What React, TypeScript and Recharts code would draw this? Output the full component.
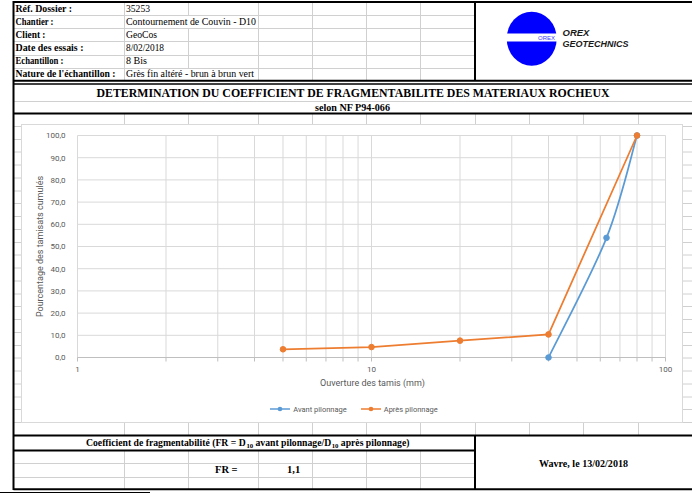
import React from 'react';
import { LineChart, Line, XAxis, YAxis, CartesianGrid, Legend } from 'recharts';

// Sieve sizes (mm) and cumulative passing (%)
const sizesAvant = [40, 63, 80];
const passingAvant = [0, 53.9, 100];
const sizesApres = [5, 10, 20, 40, 80];
const passingApres = [3.7, 4.7, 7.6, 10.4, 100];

const seriesNames = ['Avant pilonnage', 'Après pilonnage'];
const seriesColors = ['#5B9BD5', '#ED7D31'];

const xTicks = [1, 2, 3, 4, 5, 6, 7, 8, 9, 10, 20, 30, 40, 50, 60, 70, 80, 90, 100];
const xTickLabels = [1, 10, 100];
const yTicks = [0, 10, 20, 30, 40, 50, 60, 70, 80, 90, 100];

const xTitle = 'Ouverture des tamis (mm)';
const yTitle = 'Pourcentage des tamisats cumulés';

const headerLabels = [
  'Réf. Dossier :',
  'Chantier :',
  'Client :',
  'Date des essais :',
  'Echantillon :',
  "Nature de l'échantillon :",
];
const headerValues = [
  '35253',
  'Contournement de Couvin - D10',
  'GeoCos',
  '8/02/2018',
  '8 Bis',
  'Grès fin altéré - brun à brun vert',
];
const reportTitle = 'DETERMINATION DU COEFFICIENT DE FRAGMENTABILITE DES MATERIAUX ROCHEUX';
const reportNorm = 'selon NF P94-066';
const frValue = '1,1';
const placeDate = 'Wavre, le 13/02/2018';

const avantData = sizesAvant.map((s, i) => ({ size: s, pct: passingAvant[i] }));
const apresData = sizesApres.map((s, i) => ({ size: s, pct: passingApres[i] }));

const SERIF = "'Liberation Serif', 'Times New Roman', serif";
const SANS = "Roboto, 'Liberation Sans', sans-serif";
const ARIAL = "'Liberation Sans', Arial, sans-serif";
const GRID = '#d0d0d0';
const AXIS_TEXT = '#595959';

// Spreadsheet-style smoothed line: cubic Bezier segments whose control
// points follow the neighbouring points (Catmull-Rom, 1/6 factor).
function smoothCurve(context: any) {
  let pts: [number, number][] = [];
  return {
    areaStart() {},
    areaEnd() {},
    lineStart() {
      pts = [];
    },
    point(x: number, y: number) {
      pts.push([+x, +y]);
    },
    lineEnd() {
      const n = pts.length;
      if (!n) return;
      context.moveTo(pts[0][0], pts[0][1]);
      for (let i = 0; i < n - 1; i++) {
        const p0 = pts[Math.max(i - 1, 0)];
        const p1 = pts[i];
        const p2 = pts[i + 1];
        const p3 = pts[Math.min(i + 2, n - 1)];
        context.bezierCurveTo(
          p1[0] + (p2[0] - p0[0]) / 6,
          p1[1] + (p2[1] - p0[1]) / 6,
          p2[0] - (p3[0] - p1[0]) / 6,
          p2[1] - (p3[1] - p1[1]) / 6,
          p2[0],
          p2[1]
        );
      }
    },
  };
}

// Sheet column and row boundaries
const innerCols = [124.5, 188.5, 258.5, 312.5, 366.5, 420.5];
const allCols = [...innerCols, 475.5, 529.5, 583.5, 638.5];
const headerRows = [15.5, 28.5, 41.5, 55.5, 68.5];
const headerBaselines = [11.7, 25, 38.3, 51.2, 63.6, 76.7];
const labelWidths = [56.5, 38, 30, 68, 48, 100];
const valueWidths = [24, 130, 31, 38, 21, 128];
const bandRows = Array.from({ length: 24 }, (_, k) => Math.round((113.5 + 12.88 * (k + 1)) * 2) / 2);

const Sheet = () => {
  const gray: React.ReactNode[] = [];
  headerRows.forEach((y, i) =>
    gray.push(<line key={'hr' + i} x1={14} x2={475} y1={y} y2={y} stroke={GRID} />)
  );
  const headerRowEdges = [2, 15.5, 28.5, 41.5, 55.5, 68.5, 81];
  innerCols.forEach((x, ci) => {
    for (let r = 0; r < 6; r++) {
      // overflowing text hides the gridline in rows 2 and 6
      if (x === 188.5 && (r === 1 || r === 5)) continue;
      gray.push(
        <line key={`hc${ci}-${r}`} x1={x} x2={x} y1={headerRowEdges[r]} y2={headerRowEdges[r + 1]} stroke={GRID} />
      );
    }
  });
  gray.push(<line key="t101" x1={14} x2={692} y1={101.5} y2={101.5} stroke={GRID} />);
  bandRows.forEach((y, i) =>
    gray.push(<line key={'br' + i} x1={14} x2={692} y1={y} y2={y} stroke={GRID} />)
  );
  allCols.forEach((x, i) =>
    gray.push(<line key={'bc' + i} x1={x} x2={x} y1={113.5} y2={435.5} stroke={GRID} />)
  );
  [463.5, 477.5].forEach((y, i) =>
    gray.push(<line key={'fr' + i} x1={14} x2={475} y1={y} y2={y} stroke={GRID} />)
  );
  innerCols.forEach((x, i) =>
    gray.push(<line key={'fc' + i} x1={x} x2={x} y1={450} y2={489} stroke={GRID} />)
  );

  const K = '#000';
  const bold = { fontFamily: SERIF, fontWeight: 'bold' as const, fill: '#000' };
  return (
    <svg width={692} height={494} style={{ position: 'absolute', left: 0, top: 0 }}>
      <rect x={0} y={0} width={692} height={494} fill="#fff" />
      {gray}
      {/* chart object frame */}
      <rect x={21.5} y={124.5} width={661} height={298} fill="#fff" stroke="#d9d9d9" />

      {/* heavy borders */}
      <line x1={13.5} x2={692} y1={2} y2={2} stroke={K} strokeWidth={2} />
      <line x1={13.5} x2={13.5} y1={1} y2={490} stroke={K} strokeWidth={2} />
      <line x1={475} x2={475} y1={1} y2={81} stroke={K} strokeWidth={2} />
      <line x1={13.5} x2={692} y1={80.8} y2={80.8} stroke={K} strokeWidth={2} />
      <line x1={13.5} x2={692} y1={84} y2={84} stroke={K} strokeWidth={1.6} />
      <line x1={13.5} x2={692} y1={113.5} y2={113.5} stroke={K} strokeWidth={2} />
      <line x1={13.5} x2={692} y1={435.5} y2={435.5} stroke={K} strokeWidth={2} />
      <line x1={13.5} x2={475} y1={450.5} y2={450.5} stroke={K} strokeWidth={2} />
      <line x1={475} x2={475} y1={435} y2={490} stroke={K} strokeWidth={2} />
      <line x1={13.5} x2={692} y1={489.3} y2={489.3} stroke={K} strokeWidth={2} />
      <line x1={0} x2={150} y1={492.5} y2={492.5} stroke={K} strokeWidth={1} />

      {/* identification block */}
      {headerLabels.map((t, i) => (
        <text key={'l' + i} x={15.5} y={headerBaselines[i]} {...bold} fontSize={10} textLength={labelWidths[i]} lengthAdjust="spacingAndGlyphs">
          {t}
        </text>
      ))}
      {headerValues.map((t, i) => (
        <text key={'v' + i} x={126} y={headerBaselines[i]} fontFamily={SERIF} fontSize={10} fill="#000" textLength={valueWidths[i]} lengthAdjust="spacingAndGlyphs">
          {t}
        </text>
      ))}

      {/* logo */}
      <ellipse cx={531.7} cy={38.7} rx={25} ry={27} fill="#0000ff" />
      <rect x={505} y={33.5} width={54} height={8} fill="#fff" />
      <text x={538} y={40} fontFamily={ARIAL} fontSize={5.5} fill="#3a3aff" textLength={17} lengthAdjust="spacingAndGlyphs">
        OREX
      </text>
      <text x={562.5} y={36.3} fontFamily={ARIAL} fontWeight="bold" fontStyle="italic" fontSize={9.5} fill="#1a1a1a">
        OREX
      </text>
      <text x={562.5} y={46.5} fontFamily={ARIAL} fontWeight="bold" fontStyle="italic" fontSize={9.5} fill="#1a1a1a" textLength={66} lengthAdjust="spacingAndGlyphs">
        GEOTECHNICS
      </text>

      {/* titles */}
      <text x={96.5} y={96.7} {...bold} fontSize={13} textLength={513} lengthAdjust="spacingAndGlyphs">
        {reportTitle}
      </text>
      <text x={315} y={111.3} {...bold} fontSize={9.5} textLength={75} lengthAdjust="spacingAndGlyphs">
        {reportNorm}
      </text>

      {/* fragmentability result, with D10 subscripts */}
      <text x={86} y={446} {...bold} fontSize={9.7}>
        Coefficient de fragmentabilité (FR = D
      </text>
      <text x={246.4} y={448.2} {...bold} fontSize={6.8}>
        10
      </text>
      <text x={255.5} y={446} {...bold} fontSize={9.7}>
        avant pilonnage/D
      </text>
      <text x={331.7} y={448.2} {...bold} fontSize={6.8}>
        10
      </text>
      <text x={340.8} y={446} {...bold} fontSize={9.7}>
        après pilonnage)
      </text>
      <text x={215} y={473} {...bold} fontSize={10.5}>
        FR =
      </text>
      <text x={287} y={473} {...bold} fontSize={10.5}>
        {frValue}
      </text>
      <text x={539} y={466.7} {...bold} fontSize={10} textLength={89} lengthAdjust="spacingAndGlyphs">
        {placeDate}
      </text>
    </svg>
  );
};

const YTitle = (props: any) => {
  const vb = props.viewBox || { x: 0, y: 0, width: 0, height: 0 };
  const cx = vb.x + 18;
  const cy = vb.y + vb.height / 2;
  return (
    <text x={cx} y={cy} transform={`rotate(-90 ${cx} ${cy})`} textAnchor="middle" dominantBaseline="central" fontFamily={SANS} fontSize={9} fill={AXIS_TEXT}>
      {yTitle}
    </text>
  );
};

const XTitle = (props: any) => {
  const vb = props.viewBox || { x: 0, y: 0, width: 0, height: 0 };
  return (
    <text x={vb.x + vb.width / 2 + 1} y={vb.y + 28.5} textAnchor="middle" fontFamily={SANS} fontSize={9} fill={AXIS_TEXT}>
      {xTitle}
    </text>
  );
};

const LegendContent = (props: any) => {
  const payload: any[] = props.payload || [];
  const items = seriesNames.map((name, i) => {
    const hit = payload.find((p) => p.value === name);
    return { value: name, color: (hit && hit.color) || seriesColors[i] };
  });
  return (
    <div style={{ display: 'flex', justifyContent: 'center', alignItems: 'center', height: 12, paddingLeft: 4, fontFamily: SANS, fontSize: 7.5, color: AXIS_TEXT }}>
      {items.map((it, i) => (
        <div key={it.value} style={{ display: 'flex', alignItems: 'center', marginRight: i < items.length - 1 ? 14 : 0 }}>
          <svg width={20} height={8} style={{ display: 'block' }}>
            <line x1={0} x2={20} y1={4} y2={4} stroke={it.color} strokeWidth={1.5} />
            <circle cx={10} cy={4} r={2.3} fill={it.color} />
          </svg>
          <span style={{ marginLeft: 3, whiteSpace: 'nowrap' }}>{it.value}</span>
        </div>
      ))}
    </div>
  );
};

export default function App() {
  return (
    <div style={{ position: 'absolute', left: 0, top: 0, width: 692, height: 494, overflow: 'hidden', background: '#fff' }}>
      <Sheet />
      <div style={{ position: 'absolute', left: 22, top: 125, width: 660, height: 297 }}>
        <LineChart width={660} height={297} margin={{ top: 10.5, right: 16.5, bottom: 7, left: 0 }}>
          <CartesianGrid stroke="#d9d9d9" />
          <XAxis
            type="number"
            dataKey="size"
            scale="log"
            domain={[1, 100]}
            allowDataOverflow
            ticks={xTicks}
            interval={0}
            tickFormatter={(v: number) => (xTickLabels.includes(v) ? String(v) : '')}
            tickSize={4}
            tickMargin={5}
            stroke="#bfbfbf"
            tick={{ fill: AXIS_TEXT, fontSize: 8, fontFamily: SANS }}
            height={45.5}
            label={<XTitle />}
          />
          <YAxis
            type="number"
            domain={[0, 100]}
            ticks={yTicks}
            interval={0}
            tickFormatter={(v: number) => v.toFixed(1).replace('.', ',')}
            axisLine={false}
            tickLine={false}
            tickSize={6}
            tickMargin={6}
            width={55.5}
            tick={{ fill: AXIS_TEXT, fontSize: 8, fontFamily: SANS }}
            label={<YTitle />}
          />
          <Legend verticalAlign="bottom" height={12} width={660} content={<LegendContent />} />
          <Line
            data={avantData}
            dataKey="pct"
            name={seriesNames[0]}
            type={smoothCurve as any}
            stroke={seriesColors[0]}
            strokeWidth={1.75}
            dot={{ r: 2.8, fill: seriesColors[0], stroke: seriesColors[0], strokeWidth: 1 }}
            activeDot={false}
            isAnimationActive={false}
          />
          <Line
            data={apresData}
            dataKey="pct"
            name={seriesNames[1]}
            type="linear"
            stroke={seriesColors[1]}
            strokeWidth={1.75}
            dot={{ r: 2.8, fill: seriesColors[1], stroke: seriesColors[1], strokeWidth: 1 }}
            activeDot={false}
            isAnimationActive={false}
          />
        </LineChart>
      </div>
    </div>
  );
}
